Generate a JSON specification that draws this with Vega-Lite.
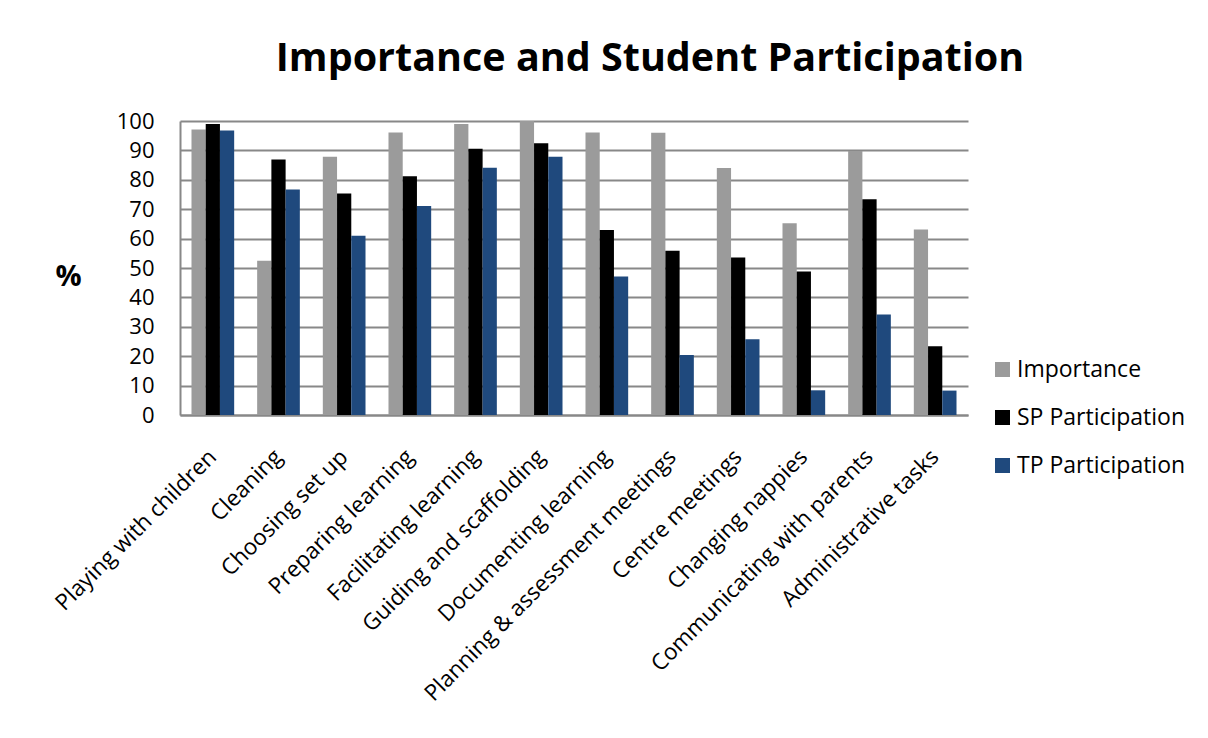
{
  "$schema": "https://vega.github.io/schema/vega-lite/v6.json",
  "autosize": {"type": "none"},
  "width": 788,
  "height": 294,
  "padding": {"left": 180, "top": 121, "right": 240, "bottom": 323},
  "background": "white",
  "title": {
    "text": "Importance and Student Participation",
    "font": "Open Sans",
    "fontSize": 39.5,
    "fontWeight": "bold",
    "color": "#000000",
    "anchor": "middle",
    "frame": "group",
    "dx": 76,
    "baseline": "alphabetic",
    "offset": 0
  },
  "data": {
    "values": [
      {"task": "Playing with children", "series": "Importance", "value": 97.1},
      {"task": "Playing with children", "series": "SP Participation", "value": 99.0},
      {"task": "Playing with children", "series": "TP Participation", "value": 96.8},
      {"task": "Cleaning", "series": "Importance", "value": 52.5},
      {"task": "Cleaning", "series": "SP Participation", "value": 86.9},
      {"task": "Cleaning", "series": "TP Participation", "value": 76.7},
      {"task": "Choosing  set up", "series": "Importance", "value": 87.8},
      {"task": "Choosing  set up", "series": "SP Participation", "value": 75.3},
      {"task": "Choosing  set up", "series": "TP Participation", "value": 61.0},
      {"task": "Preparing learning", "series": "Importance", "value": 96.1},
      {"task": "Preparing learning", "series": "SP Participation", "value": 81.2},
      {"task": "Preparing learning", "series": "TP Participation", "value": 71.1},
      {"task": "Facilitating learning", "series": "Importance", "value": 99.0},
      {"task": "Facilitating learning", "series": "SP Participation", "value": 90.6},
      {"task": "Facilitating learning", "series": "TP Participation", "value": 84.1},
      {"task": "Guiding and scaffolding", "series": "Importance", "value": 100},
      {"task": "Guiding and scaffolding", "series": "SP Participation", "value": 92.4},
      {"task": "Guiding and scaffolding", "series": "TP Participation", "value": 87.8},
      {"task": "Documenting learning", "series": "Importance", "value": 96.1},
      {"task": "Documenting learning", "series": "SP Participation", "value": 62.9},
      {"task": "Documenting learning", "series": "TP Participation", "value": 47.1},
      {"task": "Planning & assessment meetings", "series": "Importance", "value": 96.0},
      {"task": "Planning & assessment meetings", "series": "SP Participation", "value": 55.9},
      {"task": "Planning & assessment meetings", "series": "TP Participation", "value": 20.4},
      {"task": "Centre meetings", "series": "Importance", "value": 84.0},
      {"task": "Centre meetings", "series": "SP Participation", "value": 53.6},
      {"task": "Centre meetings", "series": "TP Participation", "value": 25.8},
      {"task": "Changing nappies", "series": "Importance", "value": 65.2},
      {"task": "Changing nappies", "series": "SP Participation", "value": 48.8},
      {"task": "Changing nappies", "series": "TP Participation", "value": 8.4},
      {"task": "Communicating with parents", "series": "Importance", "value": 89.8},
      {"task": "Communicating with parents", "series": "SP Participation", "value": 73.4},
      {"task": "Communicating with parents", "series": "TP Participation", "value": 34.2},
      {"task": "Administrative tasks", "series": "Importance", "value": 63.1},
      {"task": "Administrative tasks", "series": "SP Participation", "value": 23.4},
      {"task": "Administrative tasks", "series": "TP Participation", "value": 8.3}
    ]
  },
  "mark": {"type": "bar", "stroke": null},
  "encoding": {
    "x": {
      "field": "task",
      "type": "nominal",
      "sort": null,
      "scale": {"paddingInner": 0.35, "paddingOuter": 0.175},
      "axis": {
        "title": null,
        "labelAngle": -45,
        "labelAlign": "right",
        "labelBaseline": "middle",
        "labelFont": "Open Sans",
        "labelFontSize": 22.5,
        "labelColor": "#000000",
        "labelPadding": 38,
        "labelLimit": 0,
        "ticks": false,
        "domainColor": "#888888",
        "domainWidth": 2,
        "grid": false
      }
    },
    "xOffset": {
      "field": "series",
      "type": "nominal",
      "sort": ["Importance", "SP Participation", "TP Participation"],
      "scale": {"paddingInner": 0, "paddingOuter": 0}
    },
    "y": {
      "field": "value",
      "type": "quantitative",
      "scale": {"domain": [0, 100], "nice": false},
      "axis": {
        "values": [0, 10, 20, 30, 40, 50, 60, 70, 80, 90, 100],
        "title": "%",
        "titleAngle": 0,
        "titleFont": "Open Sans",
        "titleFontSize": 29,
        "titleFontWeight": "bold",
        "titleColor": "#000000",
        "titleAlign": "center",
        "titleBaseline": "middle",
        "titleX": -112,
        "titleY": 155,
        "labelFont": "Open Sans",
        "labelFontSize": 22,
        "labelColor": "#000000",
        "labelPadding": 26,
        "ticks": false,
        "domainColor": "#888888",
        "domainWidth": 2,
        "grid": true,
        "gridColor": "#888888",
        "gridWidth": 2
      }
    },
    "color": {
      "field": "series",
      "type": "nominal",
      "sort": ["Importance", "SP Participation", "TP Participation"],
      "scale": {
        "domain": ["Importance", "SP Participation", "TP Participation"],
        "range": ["#9b9b9b", "#000000", "#1f497d"]
      },
      "legend": {
        "title": null,
        "orient": "none",
        "legendX": 811,
        "legendY": 237,
        "symbolType": "square",
        "symbolSize": 225,
        "symbolStrokeWidth": 0,
        "labelFont": "Open Sans",
        "labelFontSize": 23,
        "labelColor": "#000000",
        "labelLimit": 0,
        "rowPadding": 24,
        "labelOffset": 3
      }
    }
  },
  "config": {
    "view": {"stroke": null}
  }
}
